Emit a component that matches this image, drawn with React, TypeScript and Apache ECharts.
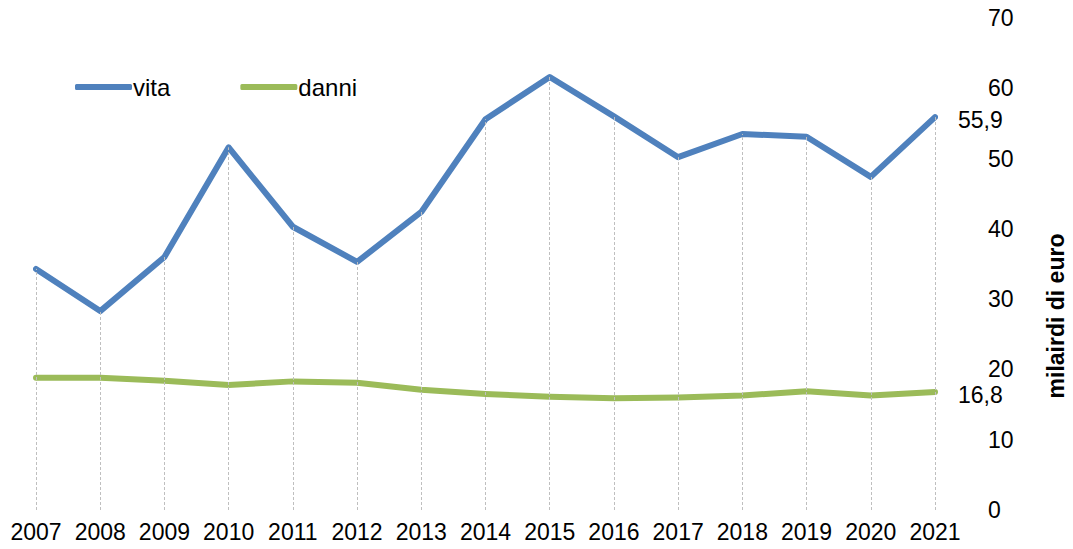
import React, { useEffect, useRef } from "react";
import * as echarts from "echarts";

const years = ["2007","2008","2009","2010","2011","2012","2013","2014","2015","2016","2017","2018","2019","2020","2021"];
const vita = [34.3, 28.3, 36.0, 51.6, 40.3, 35.3, 42.4, 55.6, 61.6, 56.0, 50.2, 53.5, 53.1, 47.4, 55.9];
const danni = [18.8, 18.8, 18.4, 17.8, 18.3, 18.1, 17.1, 16.5, 16.1, 15.9, 16.0, 16.3, 16.9, 16.3, 16.8];
const yTicks = { min: 0, max: 70, interval: 10 };
const axisTitle = "milairdi di euro";

const FONT = "'Liberation Sans', Arial, sans-serif";
const FS = 23;

function withLastLabel(values: number[]) {
  return values.map((v, i) =>
    i === values.length - 1
      ? {
          value: v,
          label: {
            show: true,
            position: "right",
            distance: 23,
            offset: [0, 3],
            formatter: (p: any) => String(p.value).replace(".", ","),
            color: "#000",
            fontSize: FS,
            fontFamily: FONT,
          },
        }
      : v
  );
}

export default function App() {
  const ref = useRef<HTMLDivElement>(null);
  useEffect(() => {
    if (!ref.current) return;
    const chart = echarts.init(ref.current, undefined, { renderer: "svg" });
    const dropLines = years.map((y, i) => [
      { coord: [y, 0] },
      { coord: [y, Math.max(vita[i], danni[i])] },
    ]);
    chart.setOption({
      animation: false,
      backgroundColor: "#fff",
      textStyle: { fontFamily: FONT },
      grid: { left: 36, right: 138, top: 18, bottom: 39, containLabel: false },
      legend: {
        left: 70,
        top: 70,
        icon: "roundRect",
        itemWidth: 57,
        itemHeight: 6,
        itemGap: 70,
        textStyle: { fontSize: 24, color: "#000", fontFamily: FONT, padding: [0, 0, 0, -4] },
        data: ["vita", "danni"],
      },
      xAxis: {
        type: "category",
        data: years,
        boundaryGap: false,
        axisLine: { show: false },
        axisTick: { show: false },
        splitLine: { show: false },
        axisLabel: { color: "#000", fontSize: FS, margin: 10, fontFamily: FONT, interval: 0 },
      },
      yAxis: {
        type: "value",
        position: "right",
        min: yTicks.min,
        max: yTicks.max,
        interval: yTicks.interval,
        axisLine: { show: false },
        axisTick: { show: false },
        splitLine: { show: false },
        axisLabel: { color: "#000", fontSize: FS, margin: 53, fontFamily: FONT },
      },
      graphic: [
        {
          type: "text",
          x: 1056,
          y: 316,
          rotation: Math.PI / 2,
          style: {
            text: axisTitle,
            fill: "#000",
            font: `bold 23px ${FONT}`,
            textAlign: "center",
            textVerticalAlign: "middle",
          },
        },
      ],
      series: [
        {
          name: "drop",
          type: "line",
          data: [],
          z: 1,
          silent: true,
          markLine: {
            symbol: ["none", "none"],
            silent: true,
            label: { show: false },
            lineStyle: { color: "#BFBFBF", type: [3, 2], width: 1 },
            data: dropLines,
          },
        },
        {
          name: "vita",
          type: "line",
          data: withLastLabel(vita),
          symbol: "circle",
          symbolSize: 0,
          showSymbol: true,
          z: 3,
          lineStyle: { color: "#4F81BD", width: 6, cap: "round", join: "round" },
          itemStyle: { color: "#4F81BD" },
        },
        {
          name: "danni",
          type: "line",
          data: withLastLabel(danni),
          symbol: "circle",
          symbolSize: 0,
          showSymbol: true,
          z: 3,
          lineStyle: { color: "#9BBB59", width: 6, cap: "round", join: "round" },
          itemStyle: { color: "#9BBB59" },
        },
      ],
    });
    return () => chart.dispose();
  }, []);
  return (
    <div
      ref={ref}
      style={{ position: "fixed", left: 0, top: 0, width: 1073, height: 549 }}
    />
  );
}
